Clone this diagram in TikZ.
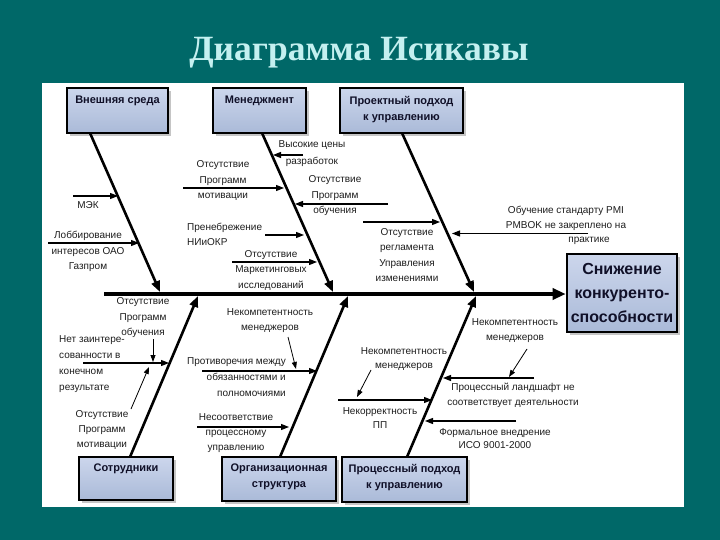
\documentclass[tikz,border=0pt]{standalone}
\usepackage{fontspec}
\setmainfont{Liberation Sans}
\newfontfamily\titlefont{Liberation Serif}
\usetikzlibrary{arrows.meta,shadows}
\definecolor{bgteal}{RGB}{0,104,104}
\definecolor{titlecol}{RGB}{196,240,240}
\definecolor{boxtop}{RGB}{204,214,236}
\definecolor{boxbot}{RGB}{170,186,216}
\definecolor{txt}{RGB}{30,30,30}
\definecolor{boxtxt}{RGB}{16,16,40}
\begin{document}
\begin{tikzpicture}[x=1pt,y=-1pt,
  catbox/.style={draw=black, line width=2.2pt, top color=boxtop, bottom color=boxbot,
    drop shadow={shadow xshift=3pt,shadow yshift=-3pt,fill=black!45}, inner sep=0pt},
  cattext/.style={font=\bfseries\fontsize{11}{16}\selectfont, text=boxtxt, align=center, inner sep=0pt, anchor=north},
  lbl/.style={font=\fontsize{10}{15.5}\selectfont, text=txt, align=center, inner sep=0pt},
  bone/.style={line width=2.6pt, -{Triangle[length=11pt,width=8.5pt]}},
  spine/.style={line width=3.6pt, -{Triangle[length=13pt,width=11pt]}},
  sub/.style={line width=1.3pt, -{Triangle[length=8pt,width=6pt]}},
  subsub/.style={line width=0.8pt, -{Triangle[length=7pt,width=5pt]}},
]
\useasboundingbox (0,0) rectangle (720,540);
\fill[bgteal] (0,0) rectangle (720,540);
\fill[white] (42,83) rectangle (684,507);
\node[font=\titlefont\bfseries\fontsize{35.5}{40}\selectfont, text=titlecol, anchor=base] (title) at (359,61) {Диаграмма Исикавы};

% category boxes
\node[catbox, minimum width=101pt, minimum height=45pt] (b1) at (117.5,110.5) {};
\node[cattext] (b1t) at (117.5,96) {Внешняя среда};
\node[catbox, minimum width=93pt, minimum height=45pt] (b2) at (259.5,110.5) {};
\node[cattext] (b2t) at (259.5,96) {Менеджмент};
\node[catbox, minimum width=123pt, minimum height=45pt] (b3) at (401.5,110.5) {};
\node[cattext] (b3t) at (401.5,96) {Проектный подход\\к управлению};
\node[catbox, minimum width=94pt, minimum height=43pt] (b4) at (126,478.5) {};
\node[cattext] (b4t) at (126,464) {Сотрудники};
\node[catbox, minimum width=114pt, minimum height=44pt] (b5) at (279,479) {};
\node[cattext] (b5t) at (279,464) {Организационная\\структура};
\node[catbox, minimum width=125pt, minimum height=45pt] (b6) at (404.5,479.5) {};
\node[cattext] (b6t) at (404.5,464) {Процессный подход\\к управлению};

% effect box
\node[catbox, minimum width=110pt, minimum height=78pt, line width=2.6pt,
  font=\bfseries\fontsize{16}{24}\selectfont, text=boxtxt, align=center] (eff) at (622,293) {Снижение\\конкуренто-\\способности};

% spine
\coordinate (s0) at (104,294);
\draw[spine] (s0) -- (eff.west |- s0);

% bones
\coordinate (t1s) at (90,133);  \coordinate (t1e) at (160,292);
\coordinate (t2s) at (262,133); \coordinate (t2e) at (333,292);
\coordinate (t3s) at (402,133); \coordinate (t3e) at (474,292);
\coordinate (u1s) at (130,457); \coordinate (u1e) at (198,296);
\coordinate (u2s) at (280,457); \coordinate (u2e) at (348,296);
\coordinate (u3s) at (407,457); \coordinate (u3e) at (476,296);
\draw[bone] (t1s) -- (t1e);
\draw[bone] (t2s) -- (t2e);
\draw[bone] (t3s) -- (t3e);
\draw[bone] (u1s) -- (u1e);
\draw[bone] (u2s) -- (u2e);
\draw[bone] (u3s) -- (u3e);

% --- Внешняя среда
\node[lbl] (mek) at (88,205) {МЭК};
\coordinate (mekA) at (73,196); \coordinate (mekB) at (118,196);
\draw[sub] (mekA) -- (mekB);
\node[lbl] (lob) at (88,251.5) {Лоббирование\\интересов ОАО\\Газпром};
\coordinate (lobA) at (48,243); \coordinate (lobB) at (139,243);
\draw[sub] (lobA) -- (lobB);

% --- Менеджмент
\node[lbl, font=\fontsize{10}{17}\selectfont] (vys) at (312,153.5) {Высокие цены\\разработок};
\coordinate (vysA) at (303,155); \coordinate (vysB) at (273,155);
\draw[sub] (vysA) -- (vysB);
\node[lbl] (otm) at (223,181) {Отсутствие\\Программ\\мотивации};
\coordinate (otmA) at (183,188); \coordinate (otmB) at (284,188);
\draw[sub] (otmA) -- (otmB);
\node[lbl] (oto) at (335,196) {Отсутствие\\Программ\\обучения};
\coordinate (otoA) at (388,204); \coordinate (otoB) at (295,204);
\draw[sub] (otoA) -- (otoB);
\node[lbl, align=left, anchor=west] (pren) at (187,234.5) {Пренебрежение\\НИиОКР};
\coordinate (prenA) at (265,235); \coordinate (prenB) at (304,235);
\draw[sub] (prenA) -- (prenB);
\node[lbl] (mark) at (271,270.5) {Отсутствие\\Маркетинговых\\исследований};
\coordinate (markA) at (232,262); \coordinate (markB) at (317,262);
\draw[sub] (markA) -- (markB);

% --- Проектный подход
\node[lbl, font=\fontsize{10}{15.3}\selectfont] (regl) at (407,255) {Отсутствие\\регламента\\Управления\\изменениями};
\coordinate (reglA) at (363,222); \coordinate (reglB) at (440,222);
\draw[sub] (reglA) -- (reglB);
\node[lbl, font=\fontsize{10}{15}\selectfont] (pmi) at (566,218.5) {Обучение стандарту PMI\\PMBOK не закреплено на};
\node[lbl] (pmi2) at (589,241) {практике};
\coordinate (pmiA) at (588,233.5); \coordinate (pmiB) at (452,233.5);
\draw[sub] (pmiA) -- (pmiB);

% --- Сотрудники
\node[lbl] (oto2) at (143,318) {Отсутствие\\Программ\\обучения};
\coordinate (oto2A) at (153,339); \coordinate (oto2B) at (153,362);
\draw[subsub] (oto2A) -- (oto2B);
\node[lbl, align=left, anchor=west, font=\fontsize{10}{16}\selectfont] (net) at (59,364.5) {Нет заинтере-\\сованности в\\конечном\\результате};
\coordinate (netA) at (83,363); \coordinate (netB) at (169,363);
\draw[sub] (netA) -- (netB);
\node[lbl, font=\fontsize{10}{15}\selectfont] (otm2) at (102,430) {Отсутствие\\Программ\\мотивации};
\coordinate (otm2A) at (131,409); \coordinate (otm2B) at (149,367);
\draw[subsub] (otm2A) -- (otm2B);

% --- Организационная структура
\node[lbl, font=\fontsize{10}{15}\selectfont] (nek1) at (270,320.5) {Некомпетентность\\менеджеров};
\coordinate (nek1A) at (288,337); \coordinate (nek1B) at (296,369);
\draw[subsub] (nek1A) -- (nek1B);
\node[lbl, align=right, anchor=east, font=\fontsize{10}{16}\selectfont] (prot) at (286,377) {Противоречия между\\обязанностями и\\полномочиями};
\coordinate (protA) at (202,371); \coordinate (protB) at (317,371);
\draw[sub] (protA) -- (protB);
\node[lbl, font=\fontsize{10}{15}\selectfont] (nesoot) at (236,433) {Несоответствие\\процессному\\управлению};
\coordinate (nesootA) at (197,427); \coordinate (nesootB) at (289,427);
\draw[sub] (nesootA) -- (nesootB);

% --- Процессный подход
\node[lbl, font=\fontsize{10}{14}\selectfont] (nek2) at (404,359) {Некомпетентность\\менеджеров};
\coordinate (nek2A) at (371,370); \coordinate (nek2B) at (357,397);
\draw[subsub] (nek2A) -- (nek2B);
\node[lbl, font=\fontsize{10}{14}\selectfont] (nekorr) at (380,418) {Некорректность\\ПП};
\coordinate (nekorrA) at (338,400); \coordinate (nekorrB) at (432,400);
\draw[sub] (nekorrA) -- (nekorrB);
\node[lbl, font=\fontsize{10}{15}\selectfont] (nek3) at (515,330.5) {Некомпетентность\\менеджеров};
\coordinate (nek3A) at (527,349); \coordinate (nek3B) at (509,377);
\draw[subsub] (nek3A) -- (nek3B);
\node[lbl, font=\fontsize{10}{15}\selectfont] (land) at (513,395.5) {Процессный ландшафт не\\соответствует деятельности};
\coordinate (landA) at (534,378); \coordinate (landB) at (443,378);
\draw[sub] (landA) -- (landB);
\node[lbl, font=\fontsize{10}{13.5}\selectfont] (form) at (495,438.5) {Формальное внедрение\\ИСО 9001-2000};
\coordinate (formA) at (516,421); \coordinate (formB) at (425,421);
\draw[sub] (formA) -- (formB);
\end{tikzpicture}
\end{document}
